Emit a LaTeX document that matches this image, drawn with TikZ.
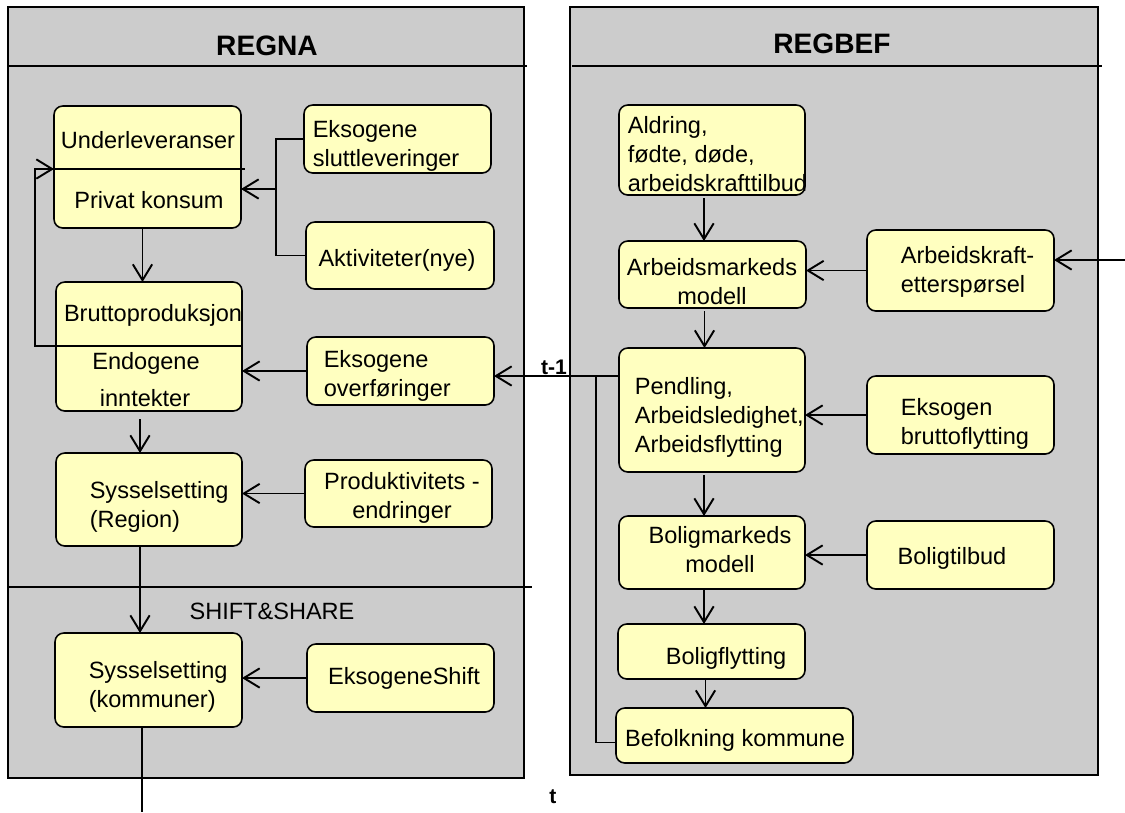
\documentclass[tikz,border=0pt]{standalone}
\usepackage{fontspec}
\setmainfont{Liberation Sans}
\usetikzlibrary{arrows.meta}
\definecolor{panelgray}{RGB}{204,204,204}
\definecolor{boxyellow}{RGB}{255,255,192}
\newcommand\mkbox[5]{\node[ybox, minimum width={(#4-#2)*0.02cm}, minimum height={(#5-#3)*0.02cm}] (#1) at ({(#2+#4)/2},{(#3+#5)/2}) {};}
\begin{document}
\begin{tikzpicture}[x=0.02cm,y=-0.02cm, line width=0.9pt,
 ybox/.style={draw, fill=boxyellow, rounded corners=5pt, inner sep=0pt, outer sep=0pt},
 panel/.style={draw, fill=panelgray},
 txt/.style={inner sep=0pt, font=\fontsize{13.4}{16.5}\selectfont},
 ttl/.style={inner sep=0pt, font=\fontsize{16}{19}\selectfont\bfseries},
 lbl/.style={inner sep=0pt, font=\fontsize{12}{14}\selectfont\bfseries},
 arr/.style={-{Straight Barb[length=9pt,width=11pt,line width=1.1pt]}}]
\useasboundingbox (0,0) rectangle (1125,812);
% panels
\draw[panel] (8,7) rectangle (524,778);
\draw[panel] (570,7) rectangle (1098,775);
\draw (8,66) -- (527,66);
\draw (8,587) -- (532,587);
\draw (572,66) -- (1102,66);
\node[ttl] (regna) at (267,46) {REGNA};
\node[ttl] (regbef) at (832,44) {REGBEF};
\node[txt] (tss) at (272,611) {SHIFT\&SHARE};
% boxes left
\mkbox{under}{54}{106}{241}{228}
\mkbox{slutt}{304}{105}{491}{173}
\mkbox{akt}{306}{222}{494}{289}
\mkbox{brutto}{56}{282}{242}{411}
\mkbox{ovf}{307}{337}{494}{405}
\mkbox{syssr}{56}{453}{242}{546}
\mkbox{prod}{305}{460}{492}{527}
\mkbox{syssk}{55}{633}{242}{727}
\mkbox{shift}{307}{644}{494}{712}
% boxes right
\mkbox{aldr}{619}{105}{805}{195}
\mkbox{amm}{619}{241}{806}{308}
\mkbox{aket}{867}{230}{1054}{311}
\mkbox{pend}{619}{348}{805}{472}
\mkbox{eksb}{867}{376}{1054}{454}
\mkbox{bmm}{619}{516}{805}{589}
\mkbox{btb}{867}{521}{1054}{589}
\mkbox{bfl}{618}{624}{805}{679}
\mkbox{befk}{616}{708}{853}{763}
% dividers
\coordinate (udiv) at (54,169);
\coordinate (bdiv) at (56,346);
\draw (udiv) -- (245,169);
\draw (bdiv) -- (243,346);
% texts left
\node[txt] (tunder) at (148,140) {Underleveranser};
\node[txt] (tpriv) at (149,200) {Privat konsum};
\node[txt,anchor=west,align=left] (tslutt) at (312,146) {Eksogene\\sluttleveringer};
\node[txt] (takt) at (397,260) {Aktiviteter(nye)};
\node[txt] (tbrutto) at (153,315) {Bruttoproduksjon};
\node[txt] (tendo) at (146,363) {Endogene};
\node[txt] (tinnt) at (145,398) {inntekter};
\node[txt,anchor=west,align=left] (tovf) at (323,376) {Eksogene\\overføringer};
\node[txt,anchor=west,align=left] (tsyssr) at (89,507) {Sysselsetting\\(Region)};
\node[txt,align=center] (tprod) at (402,498) {Produktivitets -\\endringer};
\node[txt,anchor=west,align=left] (tsyssk) at (88,687) {Sysselsetting\\(kommuner)};
\node[txt] (tshift) at (404,678) {EksogeneShift};
% texts right
\node[txt,anchor=west,align=left] (taldr) at (627,154) {Aldring,\\fødte, døde,\\arbeidskrafttilbud};
\node[txt,align=center] (tamm) at (712,282) {Arbeidsmarkeds\\modell};
\node[txt,anchor=west,align=left] (taket) at (900,272) {Arbeidskraft-\\etterspørsel};
\node[txt,anchor=west,align=left] (tpend) at (634,417) {Pendling,\\Arbeidsledighet,\\Arbeidsflytting};
\node[txt,anchor=west,align=left] (teksb) at (900,424) {Eksogen\\bruttoflytting};
\node[txt,align=center] (tbmm) at (720,550) {Boligmarkeds\\modell};
\node[txt] (tbtb) at (952,558) {Boligtilbud};
\node[txt] (tbfl) at (726,658) {Boligflytting};
\node[txt] (tbefk) at (735,740) {Befolkning kommune};
\node[lbl] (ttm1) at (554,367) {t-1};
\node[lbl] (tt) at (553,797) {t};
% connectors left
\coordinate (j1) at (276,189);
\draw (slutt.west) -- (j1 |- slutt.west) -- (j1 |- akt.west) -- (akt.west);
\draw[arr] (j1) -- (under.east |- j1);
\draw[arr] ([xshift=-0.1cm]under.south) -- ([xshift=-0.1cm]under.south |- brutto.north);
\draw[arr] (bdiv) -- ++(-21,0) |- (udiv);
\draw[arr] (ovf.west) -- (brutto.east |- ovf.west);
\draw[arr, shorten <=0.16cm] ([xshift=-0.18cm]brutto.south) -- ([xshift=-0.18cm]brutto.south |- syssr.north);
\draw[arr] (prod.west) -- (syssr.east |- prod.west);
\draw[arr] ([xshift=-0.18cm]syssr.south) -- ([xshift=-0.18cm]syssr.south |- syssk.north);
\draw[arr] (shift.west) -- (syssk.east |- shift.west);
\coordinate (bottomend) at (142,812);
\draw ([xshift=-0.13cm]syssk.south) -- ([xshift=-0.13cm]syssk.south |- bottomend);
% connectors right
\draw[arr, shorten <=0.06cm] ([xshift=-0.16cm]aldr.south) -- ([xshift=-0.16cm]aldr.south |- amm.north);
\draw[arr] (aket.west) -- (amm.east |- aket.west);
\coordinate (rin) at (1125,260);
\draw[arr] (rin) -- (aket.east |- rin);
\draw[arr, shorten <=0.06cm] ([xshift=-0.16cm]amm.south) -- ([xshift=-0.16cm]amm.south |- pend.north);
\draw[arr] (eksb.west) -- (pend.east |- eksb.west);
\draw[arr, shorten <=0.06cm] ([xshift=-0.16cm]pend.south) -- ([xshift=-0.16cm]pend.south |- bmm.north);
\draw[arr] (btb.west) -- (bmm.east |- btb.west);
\draw[arr] ([xshift=-0.16cm]bmm.south) -- ([xshift=-0.16cm]bmm.south |- bfl.north);
\draw[arr] ([xshift=-0.12cm]bfl.south) -- ([xshift=-0.12cm]bfl.south |- befk.north);
\coordinate (jt) at (596,376);
\draw[arr] (pend.west |- jt) -- (ovf.east |- jt);
\draw ([yshift=-0.14cm]befk.west) -| (jt);
\end{tikzpicture}
\end{document}
